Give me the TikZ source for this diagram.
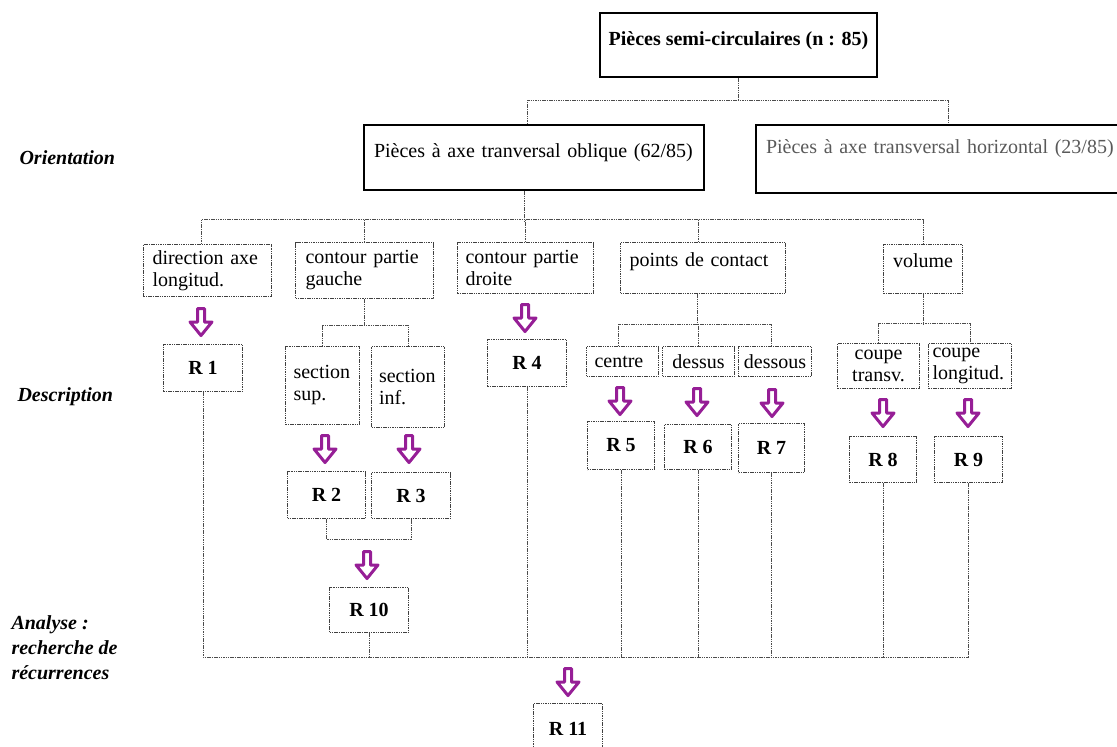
\documentclass[tikz,border=0pt]{standalone}
\usepackage{fontspec}
\setmainfont{Liberation Serif}
\usetikzlibrary{calc}
\definecolor{arrowcol}{RGB}{150,30,150}
\tikzset{
  box/.style={draw=black!75, line width=1pt, dash pattern=on 1.5pt off 0.8pt, anchor=north west, inner sep=0pt, font=\fontsize{20}{22}\selectfont},
  bigbox/.style={box, draw=black, line width=2pt, solid},
  rbox/.style={box, font=\fontsize{20}{22}\selectfont\bfseries},
  link/.style={draw=black!70, line width=1pt, dash pattern=on 1.5pt off 0.8pt},
  phase/.style={anchor=west, align=left, font=\fontsize{20}{25}\selectfont\bfseries\itshape},
  blockarrow/.pic={
    \draw[arrowcol, line width=3pt, fill=white, line join=round] (-3.5,1.5) -- (3.5,1.5) -- (3.5,15) -- (11,15) -- (0,28.5) -- (-11,15) -- (-3.5,15) -- cycle;
  }
}
\begin{document}
\begin{tikzpicture}[x=1pt, y=-1pt]
  \useasboundingbox (0,0) rectangle (1117,747);
  % niveaux
  \node[phase] (orient) at (16,158) {Orientation};
  \node[phase] (descr) at (14,397) {Description};
  \node[phase] (analy) at (8,648) {Analyse :\\recherche de\\récurrences};
  % orientation
  \node[bigbox, minimum width=277pt, minimum height=64pt, text depth=12pt, font=\fontsize{20}{22}\selectfont\bfseries] (top) at (599,12) {Pièces semi-circulaires (n : 85)};
  \node[bigbox, minimum width=340pt, minimum height=65pt, text width=320pt, align=left, text depth=13pt] (obl) at (363,124) {Pièces à axe tranversal oblique (62/85)};
  \node[bigbox, minimum width=384pt, minimum height=68pt, text width=364pt, align=left, text depth=24pt, text=black!65] (hor) at (755,124) {Pièces à axe transversal horizontal (23/85)};
  % description
  \node[box, minimum width=128pt, minimum height=52pt, text width=110pt, align=left] (dir) at (143,244) {direction axe\\longitud.};
  \node[box, minimum width=138pt, minimum height=56pt, text width=118pt, align=left] (cg) at (295,242) {contour partie\\gauche};
  \node[box, minimum width=136pt, minimum height=51pt, text width=120pt, align=left] (cd) at (457,242) {contour partie\\droite};
  \node[box, minimum width=165pt, minimum height=51pt, text width=147pt, align=left, text depth=17pt] (pc) at (620,242) {points de contact};
  \node[box, minimum width=79pt, minimum height=49pt, text depth=17pt] (vol) at (883,244) {volume};
  \node[rbox, minimum width=79pt, minimum height=47pt] (R1) at (163,344) {R 1};
  \node[box, minimum width=74pt, minimum height=78pt, text width=58pt, align=left] (ssup) at (285,346) {section\\sup.};
  \node[box, minimum width=73pt, minimum height=81pt, text width=58pt, align=left] (sinf) at (371,346) {section\\inf.};
  \node[rbox, minimum width=79pt, minimum height=47pt] (R4) at (487,339) {R 4};
  \node[box, minimum width=72pt, minimum height=30pt, text width=56pt, align=left] (cen) at (586,346) {centre};
  \node[box, minimum width=72pt, minimum height=30pt] (des) at (662,346) {dessus};
  \node[box, minimum width=73pt, minimum height=30pt] (dso) at (738,346) {dessous};
  \node[box, minimum width=82pt, minimum height=45pt, align=center] (ct) at (837,343) {coupe\\transv.};
  \node[box, minimum width=83pt, minimum height=45pt, text width=75pt, align=left] (cl) at (928,343) {coupe\\longitud.};
  \node[rbox, minimum width=78pt, minimum height=47pt] (R2) at (287,471) {R 2};
  \node[rbox, minimum width=79pt, minimum height=46pt] (R3) at (371,472) {R 3};
  \node[rbox, minimum width=67pt, minimum height=48pt] (R5) at (587,421) {R 5};
  \node[rbox, minimum width=67pt, minimum height=45pt] (R6) at (664,424) {R 6};
  \node[rbox, minimum width=66pt, minimum height=49pt] (R7) at (738,423) {R 7};
  \node[rbox, minimum width=67pt, minimum height=46pt] (R8) at (849,436) {R 8};
  \node[rbox, minimum width=68pt, minimum height=46pt] (R9) at (934,436) {R 9};
  % analyse
  \node[rbox, minimum width=79pt, minimum height=45pt] (R10) at (329,587) {R 10};
  \node[rbox, minimum width=69pt, minimum height=50pt] (R11) at (533,703) {R 11};
  % liaisons
  \coordinate (bus1) at (0,100);
  \coordinate (bus2) at (0,219);
  \coordinate (bus) at (0,657);
  \draw[link] (top.south) -- (top.south |- bus1);
  \draw[link] ($(obl.north)+(-7,0)$) |- (bus1 -| hor.north) -- (hor.north);
  \draw[link] ($(obl.south)+(-10,0)$) -- ++(0,30);
  \draw[link] ($(dir.north)+(-6,0)$) |- (bus2 -| vol.north) -- (vol.north);
  \foreach \n in {cg,cd}
    \draw[link] (\n.north) -- (\n.north |- bus2);
  \draw[link] ($(pc.north)+(-5,0)$) -- ++(0,-23);
  \draw[link] (cg.south) -- ++(0,27);
  \draw[link] (ssup.north) -- ++(0,-21) -| (sinf.north);
  \draw[link] ($(pc.south)+(-6,0)$) -- ++(0,31);
  \draw[link] ($(cen.north)+(-4,0)$) -- ++(0,-22) -| ($(dso.north)+(-4,0)$);
  \draw[link] (des.north) -- ++(0,-22);
  \draw[link] (vol.south) -- ++(0,30);
  \draw[link] (ct.north) -- ++(0,-20) -| (cl.north);
  \draw[link] (R2.south) -- ++(0,20) -| (R3.south);
  \draw[link] (R1.south) |- (bus -| R9.south) -- (R9.south);
  \foreach \r in {R4,R5,R6,R7,R8,R10}
    \draw[link] (\r.south) -- (\r.south |- bus);
  % fleches
  \foreach \x/\y in {201/307,525/303,325/434,409/434,367/550,620/386,697/387,772/388,883/398,968/398,568/667}
    \pic at (\x,\y) {blockarrow};
\end{tikzpicture}
\end{document}
